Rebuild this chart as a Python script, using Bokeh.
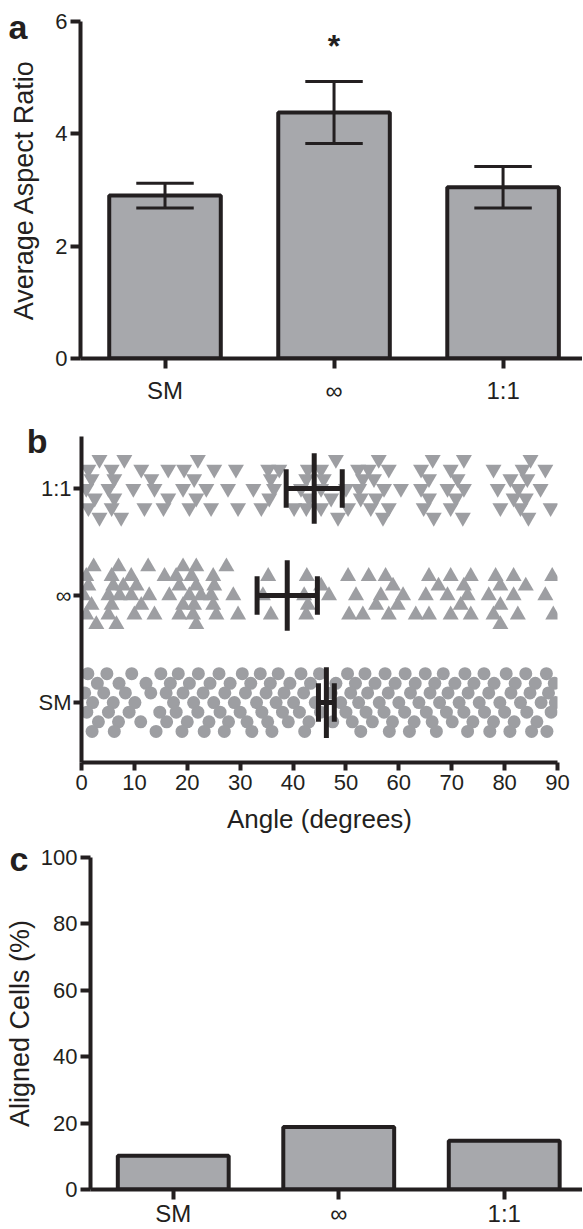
from bokeh.plotting import figure
from bokeh.models import FixedTicker, Range1d, Label, LinearAxis
from bokeh.embed import file_html
from bokeh.resources import INLINE

# ---------------- data ----------------
groups = ["SM", "\u221e", "1:1"]

# panel a: average aspect ratio (mean, error)
aspect_mean = [2.90, 4.38, 3.05]
aspect_err = [0.22, 0.55, 0.37]

# panel c: aligned cells (%)
aligned_pct = [10.2, 18.8, 14.7]

# panel b: angle summary (mean, error) per group
angle_mean = [46.3, 38.9, 44.0]
angle_err = [1.5, 5.7, 5.3]

# panel b: individual cell angles, listed by jitter row (top row first)
jitter_rows = [0.27, 0.18, 0.09, 0.0, -0.09, -0.18, -0.27]

sm_angles = [
    [1.2, 4.8, 9.5, 15.0, 18.3, 22.1, 26.0, 30.4, 33.8, 37.2, 41.5, 45.0, 50.3, 53.6, 57.4, 61.2, 65.0, 68.4, 72.5, 76.1, 80.3, 84.0, 87.9],
    [3.0, 7.1, 12.2, 16.8, 20.4, 24.3, 28.1, 32.0, 35.7, 39.4, 43.3, 48.1, 51.8, 55.5, 59.3, 63.1, 66.8, 70.6, 74.2, 78.0, 82.0, 85.8, 89.4],
    [0.6, 4.2, 8.3, 13.1, 16.0, 19.2, 23.0, 27.1, 31.0, 34.9, 38.3, 42.0, 47.2, 50.9, 54.1, 58.0, 62.2, 65.9, 69.3, 73.1, 77.0, 81.2, 84.8, 88.3],
    [2.1, 6.0, 10.1, 17.4, 21.2, 25.0, 28.9, 33.1, 36.8, 40.1, 44.2, 49.0, 52.4, 56.3, 60.0, 63.8, 67.7, 71.4, 75.2, 79.1, 83.0, 86.9, 89.6],
    [1.0, 5.1, 9.0, 14.8, 17.9, 22.0, 26.2, 30.0, 34.1, 38.0, 41.2, 45.2, 50.0, 53.8, 57.2, 61.1, 65.2, 69.0, 72.3, 76.2, 80.0, 84.2, 88.8],
    [3.2, 7.0, 11.2, 16.1, 20.0, 24.1, 27.8, 31.3, 35.2, 39.1, 43.0, 47.5, 51.2, 55.0, 58.8, 62.9, 66.3, 70.1, 74.0, 77.9, 81.8, 86.1],
    [2.0, 6.2, 14.1, 19.0, 23.2, 27.0, 32.2, 36.0, 42.2, 52.8, 58.2, 62.0, 67.1, 73.0, 77.2, 81.0, 85.1, 88.0],
]

inf_angles = [
    [2.3, 7.0, 12.6, 19.2, 21.7, 27.4],
    [0.9, 5.7, 9.4, 15.7, 17.9, 20.8, 24.9, 35.3, 42.6, 50.4, 54.3, 57.5, 65.7, 69.8, 73.6, 78.3, 81.7, 89.0],
    [1.3, 6.0, 7.9, 10.4, 18.5, 21.7, 25.1, 45.3, 58.9, 67.5, 72.3, 79.2, 84.0],
    [0.4, 5.1, 7.2, 9.4, 12.8, 16.6, 20.4, 22.6, 24.5, 28.7, 34.3, 42.1, 46.8, 51.9, 56.6, 60.8, 65.1, 69.2, 73.0, 77.0, 81.7, 87.7],
    [1.9, 5.7, 11.3, 19.2, 21.3, 24.9, 42.8, 55.7, 59.8, 71.7, 79.2],
    [0.9, 5.1, 10.0, 13.8, 18.5, 21.1, 25.5, 29.6, 35.8, 42.5, 50.6, 53.2, 58.1, 63.2, 65.7, 69.8, 73.6, 77.9, 82.5, 89.2],
    [2.8, 6.6, 21.7, 79.2],
]

one_angles = [
    [3.4, 8.1, 22.0, 48.1, 56.2, 66.4, 72.3, 84.9],
    [1.3, 5.7, 11.3, 16.4, 19.4, 25.1, 29.2, 35.3, 37.4, 42.8, 45.3, 52.3, 54.3, 58.1, 64.2, 69.8, 77.9, 83.4, 87.7],
    [1.9, 6.2, 13.2, 21.3, 35.8, 42.5, 45.8, 53.2, 55.3, 65.7, 71.1, 81.1, 84.3],
    [0.9, 5.1, 9.8, 13.8, 19.2, 23.6, 27.7, 32.5, 36.4, 41.5, 45.3, 50.0, 52.5, 57.2, 60.4, 64.2, 69.2, 72.3, 78.7, 82.6, 86.8],
    [2.5, 6.2, 16.4, 21.7, 35.5, 43.0, 47.2, 52.8, 55.7, 65.7, 70.8, 81.7, 84.0],
    [1.3, 5.7, 11.9, 15.5, 20.4, 24.5, 29.6, 34.0, 40.2, 42.5, 45.3, 50.4, 54.7, 58.1, 64.7, 69.8, 79.2, 83.0, 88.7],
    [3.4, 7.5, 48.5, 57.0, 66.6, 72.1, 84.5],
]

a_ticks = [0, 2, 4, 6]
b_ticks = [0, 10, 20, 30, 40, 50, 60, 70, 80, 90]
c_ticks = [0, 20, 40, 60, 80, 100]

# ---------------- style ----------------
INK = "#231f20"
BAR = "#a7a8ac"
DOT = "#9d9ea2"
FONT = "Liberation Sans"
BG = "#ffffff"


def style_axes(p, label_size="27px"):
    for ax in (p.xaxis[0], p.yaxis[0]):
        ax.axis_line_width = 4
        ax.axis_line_color = INK
        ax.major_tick_line_width = 4
        ax.major_tick_line_color = INK
        ax.major_tick_in = 0
        ax.major_tick_out = 10
        ax.minor_tick_line_color = None
        ax.major_label_text_font = FONT
        ax.major_label_text_color = INK
        ax.axis_label_text_font = FONT
        ax.axis_label_text_font_style = "normal"
        ax.axis_label_text_color = INK
        ax.axis_label_text_font_size = label_size
    p.xgrid.visible = False
    p.ygrid.visible = False
    p.outline_line_color = None
    p.background_fill_color = BG
    p.border_fill_color = BG


def panel_letter(p, txt, yval, standoff):
    # an extra, invisible left axis whose single tick label is the panel letter
    ax = LinearAxis(ticker=FixedTicker(ticks=[yval]), major_label_overrides={yval: txt},
                    axis_line_color=None, major_tick_line_color=None,
                    minor_tick_line_color=None, major_tick_in=0, major_tick_out=0,
                    major_label_standoff=standoff, major_label_text_font=FONT,
                    major_label_text_font_size="34px", major_label_text_font_style="bold",
                    major_label_text_color=INK)
    p.add_layout(ax, "left")


xpos = [i + 0.5 for i in range(len(groups))]
cat_labels = {i + 0.5: g for i, g in enumerate(groups)}

# ---------------- panel a ----------------
pa = figure(frame_width=502, frame_height=337, output_backend="svg", toolbar_location=None,
            x_range=Range1d(0, 2.97), y_range=Range1d(0, 6),
            min_border_left=80, min_border_right=0, min_border_top=21, min_border_bottom=50)
style_axes(pa)
pa.vbar(x=xpos, top=aspect_mean, width=0.66, bottom=0, fill_color=BAR,
        line_color=INK, line_width=4)
lo = [m - e for m, e in zip(aspect_mean, aspect_err)]
hi = [m + e for m, e in zip(aspect_mean, aspect_err)]
cw = 0.17
pa.segment(x0=xpos, y0=lo, x1=xpos, y1=hi, line_color=INK, line_width=3)
pa.segment(x0=[x - cw for x in xpos], y0=hi, x1=[x + cw for x in xpos], y1=hi, line_color=INK, line_width=3)
pa.segment(x0=[x - cw for x in xpos], y0=lo, x1=[x + cw for x in xpos], y1=lo, line_color=INK, line_width=3)
pa.xaxis.ticker = FixedTicker(ticks=xpos)
pa.xaxis.major_label_overrides = cat_labels
pa.xaxis.major_label_text_font_size = "24px"
pa.xaxis.major_label_standoff = 8
pa.yaxis.ticker = FixedTicker(ticks=a_ticks)
pa.yaxis.major_label_text_font_size = "22px"
pa.yaxis.major_label_standoff = 3
pa.yaxis.axis_label = "Average Aspect Ratio"
pa.yaxis.axis_label_standoff = 13
pa.add_layout(Label(x=xpos[1], y=5.57, text="*", text_font=FONT, text_font_size="32px",
                    text_font_style="bold", text_color=INK, text_align="center",
                    text_baseline="middle"))
panel_letter(pa, "a", 5.91, -21)

# ---------------- panel b ----------------
pb = figure(frame_width=476, frame_height=326, output_backend="svg", toolbar_location=None,
            x_range=Range1d(0, 90), y_range=Range1d(0.44, 3.486),
            min_border_left=81, min_border_right=18, min_border_top=28, min_border_bottom=77)
style_axes(pb, label_size="26px")
markers = ["circle", "triangle", "inverted_triangle"]
sizes = [13, 16, 16]
for gi, rows in enumerate([sm_angles, inf_angles, one_angles]):
    xs, ys = [], []
    for off, row in zip(jitter_rows, rows):
        for a in row:
            xs.append(a)
            ys.append(gi + 1 + off)
    pb.scatter(x=xs, y=ys, marker=markers[gi], size=sizes[gi], fill_color=DOT,
               line_color=None)
ypos = [i + 1 for i in range(len(groups))]
mlo = [m - e for m, e in zip(angle_mean, angle_err)]
mhi = [m + e for m, e in zip(angle_mean, angle_err)]
pb.segment(x0=mlo, y0=ypos, x1=mhi, y1=ypos, line_color=INK, line_width=5)
pb.segment(x0=mlo, y0=[y - 0.18 for y in ypos], x1=mlo, y1=[y + 0.18 for y in ypos], line_color=INK, line_width=5)
pb.segment(x0=mhi, y0=[y - 0.18 for y in ypos], x1=mhi, y1=[y + 0.18 for y in ypos], line_color=INK, line_width=5)
pb.segment(x0=angle_mean, y0=[y - 0.33 for y in ypos], x1=angle_mean, y1=[y + 0.33 for y in ypos], line_color=INK, line_width=5)
pb.xaxis.ticker = FixedTicker(ticks=b_ticks)
pb.xaxis.major_label_text_font_size = "22px"
pb.xaxis.major_tick_out = 8
pb.xaxis.major_label_standoff = 4
pb.xaxis.axis_label = "Angle (degrees)"
pb.xaxis.axis_label_standoff = 11
pb.yaxis.ticker = FixedTicker(ticks=ypos)
pb.yaxis.major_label_overrides = {i + 1: g for i, g in enumerate(groups)}
pb.yaxis.major_label_text_font_size = "22px"
pb.yaxis.major_tick_out = 8
pb.yaxis.major_label_standoff = 2
panel_letter(pb, "b", 3.44, -12)

# ---------------- panel c ----------------
pc = figure(frame_width=492, frame_height=332, output_backend="svg", toolbar_location=None,
            x_range=Range1d(0, 2.973), y_range=Range1d(0, 100),
            min_border_left=90, min_border_right=0, min_border_top=18, min_border_bottom=31)
style_axes(pc)
pc.vbar(x=xpos, top=aligned_pct, width=0.67, bottom=0, fill_color=BAR,
        line_color=INK, line_width=4)
pc.xaxis.ticker = FixedTicker(ticks=xpos)
pc.xaxis.major_label_overrides = cat_labels
pc.xaxis.major_label_text_font_size = "24px"
pc.xaxis.major_label_standoff = 0
pc.yaxis.ticker = FixedTicker(ticks=c_ticks)
pc.yaxis.major_label_text_font_size = "22px"
pc.yaxis.major_label_standoff = 3
pc.yaxis.axis_label = "Aligned Cells (%)"
pc.yaxis.axis_label_standoff = 3
panel_letter(pc, "c", 99.9, -27)

open("out.html", "w").write(file_html([pa, pb, pc], INLINE))
